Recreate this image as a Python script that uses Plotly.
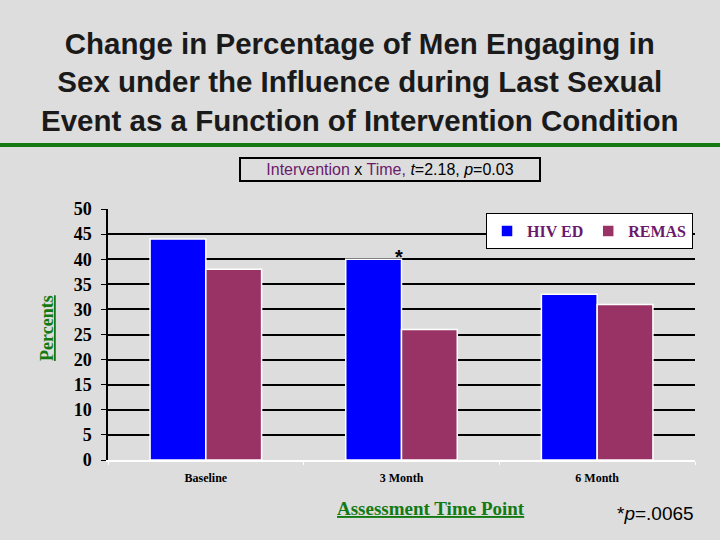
import plotly.graph_objects as go

categories = ["Baseline", "3 Month", "6 Month"]
hiv_ed = [44, 40, 33]
remas = [38, 26, 31]
series_names = ["HIV ED", "REMAS"]
y_ticks = [0, 5, 10, 15, 20, 25, 30, 35, 40, 45, 50]

fig = go.Figure()
fig.add_trace(go.Bar(x=categories, y=hiv_ed, name=series_names[0],
                     marker=dict(color="#0000ff", line=dict(color="white", width=1.5))))
fig.add_trace(go.Bar(x=categories, y=remas, name=series_names[1],
                     marker=dict(color="#993366", line=dict(color="white", width=1.5))))

bg = "#dddddd"
fig.update_layout(
    width=720, height=540,
    paper_bgcolor=bg, plot_bgcolor=bg,
    margin=dict(l=108, r=25, t=209, b=80),
    barmode="group", bargap=0.43, bargroupgap=0,
    showlegend=True,
    legend=dict(orientation="h", x=0.644, y=0.984, xanchor="left", yanchor="top",
                bgcolor="white", bordercolor="black", borderwidth=1,
                font=dict(family="Liberation Serif", size=16, color="#6b1a6b", weight="bold"),
                itemwidth=30, tracegroupgap=0),
    font=dict(family="Liberation Serif"),
)
fig.update_yaxes(range=[0, 50], tickvals=y_ticks, showgrid=True, gridcolor="black", gridwidth=1.5,
                 showline=True, linecolor="black", linewidth=1.5, ticks="outside", ticklen=5,
                 tickcolor="black", ticklabelstandoff=6,
                 tickfont=dict(family="Liberation Serif", size=18, color="black", weight="bold"),
                 zeroline=False, layer="below traces")
fig.update_xaxes(showline=True, linecolor="white", linewidth=2, ticks="outside", tickson="boundaries",
                 tickcolor="white", ticklen=3, ticklabelstandoff=6,
                 tickfont=dict(family="Liberation Serif", size=12, color="black", weight="bold"))

# Title
fig.add_annotation(xref="paper", yref="paper", x=0.429, y=1.735, xanchor="center", yanchor="top",
                   text="<b>Change in Percentage of Men Engaging in<br>Sex under the Influence during Last Sexual<br>Event as a Function of Intervention Condition</b>",
                   font=dict(family="Liberation Sans", size=29.5, color="#1a1a1a"),
                   showarrow=False, align="center")
fig.add_shape(type="line", xref="paper", yref="paper", x0=-0.2, x1=1.1, y0=1.255, y1=1.255,
              line=dict(color="#137a13", width=4))
# Interaction box
fig.add_annotation(xref="paper", yref="paper", x=0.48, y=1.159, xanchor="center", yanchor="middle",
                   text="<span style='color:#6b1a6b'>Intervention</span> x <span style='color:#6b1a6b'>Time,</span> <i>t</i>=2.18, <i>p</i>=0.03",
                   font=dict(family="Liberation Sans", size=16, color="black"),
                   showarrow=False, bordercolor="black", borderwidth=2, borderpad=2, bgcolor=bg,
                   width=294)
# Axis titles
fig.add_annotation(xref="paper", yref="paper", x=-0.104, y=0.526, xanchor="center", yanchor="middle",
                   textangle=-90, text="<b><u>Percents</u></b>", showarrow=False,
                   font=dict(family="Liberation Serif", size=18, color="#137a13"))
fig.add_annotation(xref="paper", yref="paper", x=0.55, y=-0.195, xanchor="center", yanchor="middle",
                   text="<b><u>Assessment Time Point</u></b>", showarrow=False,
                   font=dict(family="Liberation Serif", size=19, color="#137a13"))
fig.add_annotation(xref="paper", yref="paper", x=0.932, y=-0.215, xanchor="center", yanchor="middle",
                   text="*<i>p</i>=.0065", showarrow=False,
                   font=dict(family="Liberation Sans", size=19, color="black"))
# significance star
fig.add_annotation(x=categories[1], y=hiv_ed[1], xshift=-3, yshift=-11, yanchor="bottom",
                   text="<b>*</b>", showarrow=False,
                   font=dict(family="Liberation Sans", size=20, color="black"))

fig.write_html("out.html", config={"displayModeBar": False},
               post_script="document.body.style.margin='0';")
